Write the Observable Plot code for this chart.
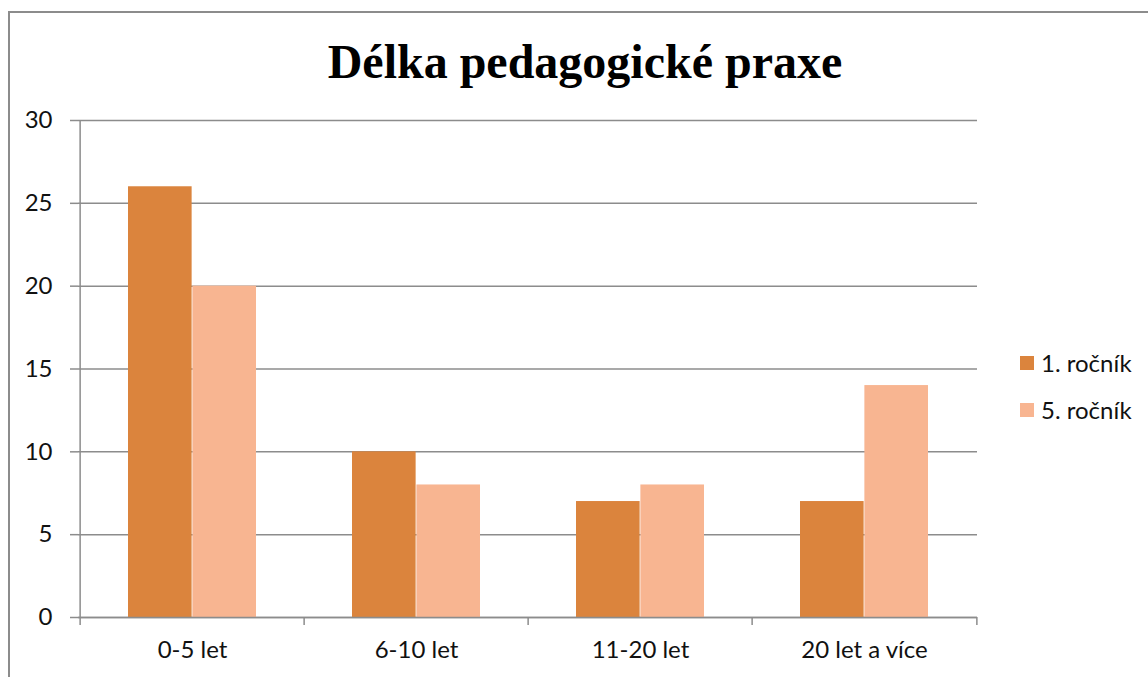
<!DOCTYPE html>
<html>
<head>
<meta charset="utf-8">
<script src="https://cdn.jsdelivr.net/npm/d3@7"></script>
<script src="https://cdn.jsdelivr.net/npm/@observablehq/plot@0.6"></script>
<style>
  html, body { margin: 0; padding: 0; background: #fff; overflow: hidden; }
  #wrap { position: relative; width: 1148px; height: 677px; overflow: hidden; font-family: Lato, "Open Sans", sans-serif; }
  #border { position: absolute; left: 8px; top: 11px; width: 1300px; height: 800px; border: 2px solid #8c8c8c; box-sizing: border-box; }
  #title { position: absolute; left: 0; width: 1170px; top: 33px; text-align: center; font-family: "Liberation Serif", "DejaVu Serif", serif; font-weight: bold; font-size: 48px; line-height: 1.2; color: #000; }
  #chart { position: absolute; left: 0; top: 0; }
  #legend { position: absolute; left: 1020px; top: 339px; font-size: 24px; color: #111; }
  .item { display: flex; align-items: center; height: 47px; }
  .sw { width: 14px; height: 14px; margin-right: 7px; }
</style>
</head>
<body>
<div id="wrap">
  <div id="border"></div>
  <div id="chart"></div>
  <div id="title"></div>
  <div id="legend"></div>
</div>
<script>
const title = "Délka pedagogické praxe";
const categories = ["0-5 let", "6-10 let", "11-20 let", "20 let a více"];
const seriesNames = ["1. ročník", "5. ročník"];
const rocnik1 = [26, 10, 7, 7];
const rocnik5 = [20, 8, 8, 14];
const yTicks = [0, 5, 10, 15, 20, 25, 30];
const colors = ["#DB843D", "#F8B591"];

const data1 = categories.map((c, i) => ({cat: c, value: rocnik1[i]}));
const data5 = categories.map((c, i) => ({cat: c, value: rocnik5[i]}));

const W = 1148, H = 677, mL = 78, mR = 171, mT = 120, mB = 60;
const bw = (W - mL - mR) / categories.length;
const gridColor = "#8c8c8c";

const chart = Plot.plot({
  width: W,
  height: H,
  marginLeft: mL,
  marginRight: mR,
  marginTop: mT,
  marginBottom: mB,
  style: {fontFamily: "Lato, 'Open Sans', sans-serif", fontSize: "24px", color: "#111", background: "transparent"},
  x: {domain: categories, padding: 0},
  y: {domain: [0, 30]},
  marks: [
    Plot.gridY(yTicks, {stroke: gridColor, strokeOpacity: 1, strokeWidth: 1.5}),
    Plot.axisY(yTicks, {tickSize: 8, tickPadding: 18, stroke: gridColor, strokeWidth: 1.5, fill: "#111", fontSize: 24, label: null}),
    Plot.barY(data1, {x: "cat", y: "value", fill: colors[0], insetLeft: bw * 0.2136, insetRight: bw - bw * 0.5}),
    Plot.barY(data5, {x: "cat", y: "value", fill: colors[1], insetLeft: bw * 0.5, insetRight: bw - bw * 0.7864}),
    Plot.ruleY([0], {stroke: gridColor, strokeWidth: 1.5}),
    Plot.ruleX([categories[0]], {dx: -bw / 2, stroke: gridColor, strokeWidth: 1.5}),
    Plot.ruleX(categories, {y1: 0, y2: 0, insetBottom: -8, dx: -bw / 2, stroke: gridColor, strokeWidth: 1.5}),
    Plot.ruleX([categories[categories.length - 1]], {y1: 0, y2: 0, insetBottom: -8, dx: bw / 2, stroke: gridColor, strokeWidth: 1.5}),
    Plot.axisX({tickSize: 0, tickPadding: 23, fill: "#111", fontSize: 24, label: null})
  ]
});
document.getElementById("chart").appendChild(chart);
document.getElementById("title").textContent = title;

const legend = document.getElementById("legend");
seriesNames.forEach((name, i) => {
  const item = document.createElement("div");
  item.className = "item";
  const sw = document.createElement("span");
  sw.className = "sw";
  sw.style.background = colors[i];
  const t = document.createElement("span");
  t.textContent = name;
  item.appendChild(sw);
  item.appendChild(t);
  legend.appendChild(item);
});
</script>
</body>
</html>
